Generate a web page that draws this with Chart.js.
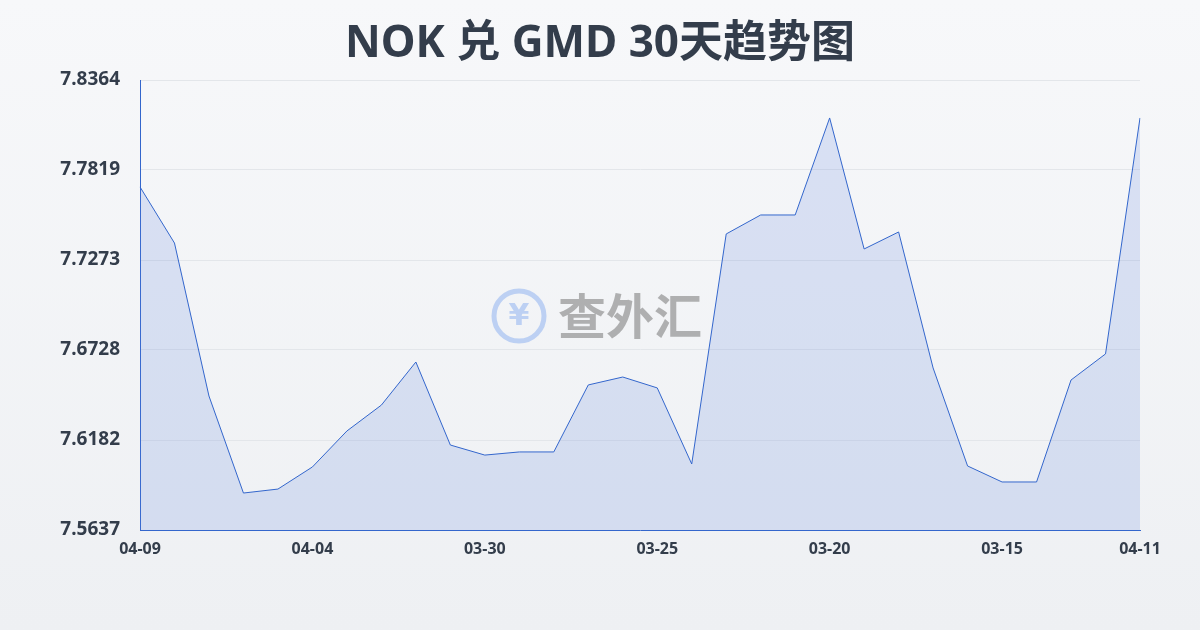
<!DOCTYPE html>
<html lang="en">
<head>
  <meta charset="UTF-8">
  <title>NOK 兑 GMD 30天趋势图</title>
  <script src="https://cdn.jsdelivr.net/npm/chart.js"></script>
  <style>
    body {
      margin: 0;
      width: 1200px;
      height: 630px;
      background: linear-gradient(#f7f8fa, #eef0f3);
    }
    #wrap { width: 1200px; height: 630px; }
  </style>
</head>
<body>
  <div id="wrap"><canvas id="rateChart"></canvas></div>
  <script>
    var labels = ['04-09','04-08','04-07','04-06','04-05','04-04','04-03','04-02','04-01','03-31',
                  '03-30','03-29','03-28','03-27','03-26','03-25','03-24','03-23','03-22','03-21',
                  '03-20','03-19','03-18','03-17','03-16','03-15','03-14','03-13','03-12','04-11'];
    var rates = [7.7716,7.7376,7.6449,7.5861,7.5885,7.6019,7.6237,7.6394,7.6655,7.6152,
                 7.6091,7.6110,7.6110,7.6516,7.6564,7.6498,7.6037,7.7431,7.7546,7.7546,
                 7.8134,7.7340,7.7443,7.6619,7.6025,7.5928,7.5928,7.6546,7.6704,7.8134];
    var yTicks = [7.5637,7.6182,7.6728,7.7273,7.7819,7.8364];

    Chart.defaults.font.family = '"Noto Sans", "Noto Sans CJK SC", sans-serif';

    var titleAndMark = {
      id: 'titleAndMark',
      beforeDatasetsDraw: function (chart) {
        var c = chart.ctx;
        c.save();
        // watermark
        c.globalAlpha = 0.55;
        c.strokeStyle = '#8fb3f0';
        c.lineWidth = 5;
        c.beginPath();
        c.arc(519, 316, 25, 0, Math.PI * 2);
        c.stroke();
        c.fillStyle = '#8fb3f0';
        c.font = 'bold 30px "DejaVu Sans"';
        c.textAlign = 'center';
        c.textBaseline = 'middle';
        c.fillText('¥', 519, 317);
        c.fillStyle = '#777';
        c.font = 'bold 48px "Noto Sans CJK SC"';
        c.textAlign = 'left';
        c.fillText('查外汇', 558, 316);
        c.restore();
      },
      afterDraw: function (chart) {
        var c = chart.ctx;
        c.save();
        c.fillStyle = '#333d4b';
        c.font = 'bold 44px "Noto Sans", "Noto Sans CJK SC"';
        c.textAlign = 'center';
        c.textBaseline = 'middle';
        c.fillText('NOK 兑 GMD 30天趋势图', 600, 44);
        c.restore();
      }
    };

    new Chart(document.getElementById('rateChart'), {
      type: 'line',
      data: {
        labels: labels,
        datasets: [{
          data: rates,
          borderColor: '#3366cc',
          borderWidth: 1,
          backgroundColor: 'rgba(90,130,220,0.18)',
          fill: 'start',
          pointRadius: 0,
          tension: 0
        }]
      },
      options: {
        responsive: true,
        maintainAspectRatio: false,
        animation: false,
        layout: { padding: { top: 80, right: 60, left: 0, bottom: 0 } },
        plugins: { legend: { display: false }, tooltip: { enabled: false } },
        scales: {
          x: {
            grid: { display: false },
            border: { color: '#3366cc' },
            afterFit: function (s) { s.height = 100; },
            ticks: {
              autoSkip: false,
              maxRotation: 0,
              color: '#333d4b',
              font: { size: 16, weight: 'bold' },
              padding: 2,
              callback: function (v, i) {
                return (i % 5 === 0 || i === labels.length - 1) ? labels[i] : null;
              }
            }
          },
          y: {
            min: yTicks[0],
            max: yTicks[yTicks.length - 1],
            afterBuildTicks: function (s) {
              s.ticks = yTicks.map(function (v) { return { value: v }; });
            },
            afterFit: function (s) { s.width = 140; },
            grid: { color: '#e3e6ea', drawTicks: false },
            border: { color: '#3366cc' },
            ticks: {
              color: '#333d4b',
              font: { size: 19, weight: 'bold' },
              padding: 20,
              callback: function (v) { return v.toFixed(4); }
            }
          }
        }
      },
      plugins: [titleAndMark]
    });
  </script>
</body>
</html>
